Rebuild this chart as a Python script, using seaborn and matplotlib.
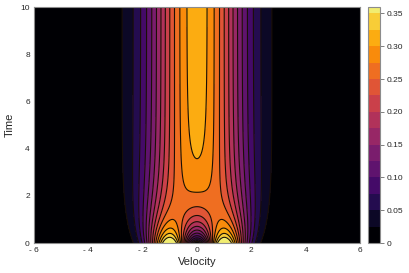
import numpy as np
import matplotlib
matplotlib.use("Agg")
import matplotlib.pyplot as plt
import seaborn as sns

# ---- values ----
velocity_limits = [-6.0, 6.0]
time_limits = [0.0, 10.0]
# Lenard-Bernstein (Dougherty) relaxation of f0 ~ v^2 exp(-v^2)
collision_rate = 0.127         # nu
equilibrium_temperature = 1.5  # <v^2> of the initial state
initial_width_sq = 0.5
total_density = 0.965
fill_levels = [0.0, 0.025, 0.05, 0.075, 0.1, 0.125, 0.15, 0.175, 0.2,
               0.225, 0.25, 0.275, 0.3, 0.325, 0.35]
colorbar_top = 0.369
x_ticks = [-6, -4, -2, 0, 2, 4, 6]
x_tick_labels = ["- 6", "- 4", "- 2", "0", "2", "4", "6"]
y_ticks = [0, 2, 4, 6, 8, 10]
y_tick_labels = ["0", "2", "4", "6", "8", "10"]
cbar_ticks = [0.0, 0.05, 0.1, 0.15, 0.2, 0.25, 0.3, 0.35]
cbar_tick_labels = ["0", "0.05", "0.10", "0.15", "0.20", "0.25", "0.30", "0.35"]

# ---- field ----
v = np.linspace(velocity_limits[0], velocity_limits[1], 601)
t = np.linspace(time_limits[0], time_limits[1], 401)
V, Tt = np.meshgrid(v, t)
a2 = np.exp(-2.0 * collision_rate * Tt)
b = initial_width_sq * a2
S = b + equilibrium_temperature * (1.0 - a2)
f = total_density * np.exp(-V**2 / (2 * S)) / np.sqrt(2 * np.pi * S) * (
    1.0 - b / S + b * V**2 / S**2)

sns.set_theme(style="white")
plt.rcParams['font.family'] = ['Liberation Sans', 'DejaVu Sans']

W, H = 409, 273
fig = plt.figure(figsize=(W / 100, H / 100), dpi=100)
ax = fig.add_axes([34 / W, (H - 243) / H, (360 - 34) / W, (243 - 7) / H])

levels = fill_levels + [max(float(f.max()), fill_levels[-1] + 0.01)]
cmap = plt.get_cmap("inferno")
colors = [cmap(min(lv / colorbar_top, 1.0)) for lv in fill_levels]
cf = ax.contourf(v, t, f, levels=levels, colors=colors)
ax.contour(v, t, f, levels=fill_levels[1:], colors="#1a0f05", linewidths=0.8)

ax.set_xlim(velocity_limits)
ax.set_ylim(time_limits)
ax.set_xticks(x_ticks)
ax.set_xticklabels(x_tick_labels)
ax.set_yticks(y_ticks)
ax.set_yticklabels(y_tick_labels)
ax.tick_params(axis="both", labelsize=6, direction="in", length=2, width=0.5,
               color="0.4", pad=3, bottom=True, left=True)
ax.set_xlabel("Velocity", fontsize=8, labelpad=2)
ax.set_ylabel("Time", fontsize=8, labelpad=4)
for s in ax.spines.values():
    s.set_color("0.55")
    s.set_linewidth(0.8)

cax = fig.add_axes([368 / W, (H - 243) / H, 12 / W, (243 - 7.3) / H])
cb = fig.colorbar(cf, cax=cax)
cax.set_ylim(0, colorbar_top)
cb.set_ticks(cbar_ticks)
cb.set_ticklabels(cbar_tick_labels)
cax.tick_params(labelsize=6, direction="out", length=3, width=0.5, color="0.3", pad=1.5)
cb.outline.set_edgecolor("0.55")
cb.outline.set_linewidth(0.8)

fig.savefig("out.png", dpi=100)
